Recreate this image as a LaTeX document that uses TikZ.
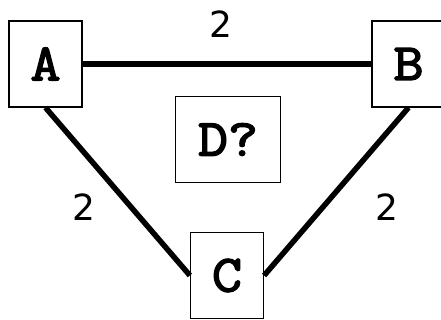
\documentclass[tikz,border=0pt]{standalone}
\usepackage{fontspec}
\newfontfamily\boxfont[FakeBold=3,FakeStretch=1.12]{Latin Modern Mono}
\newfontfamily\costfont{DejaVu Sans}
\usetikzlibrary{positioning}

\begin{document}
\begin{tikzpicture}[
    x=1pt, y=1pt,
    % Styles
    router/.style={% For the boxes
        rectangle,
        draw,
        line width=1.2pt,
        fill=white,
        minimum width=73pt,
        minimum height=86pt,
        inner sep=0pt,
        font=\boxfont\fontsize{52}{52}\selectfont,
        },
    link/.style={% For the thick lines
        line width=5.5pt,
        },
    cost/.style={% For the link weights
        font=\costfont\fontsize{36}{36}\selectfont,
        inner sep=0pt,
        },
    ]

    \clip (0,0) rectangle (441,320);
    \useasboundingbox (0,0) rectangle (441,320);

    % Draw the boxes:
    \node [router] (A) at (45.5, 256) {A};
    \node [router] (B) at (408.5, 256) {B};
    \node [router] (C) at (227, 44.5) {C};
    \node [router, minimum width=105pt] (D) at (228, 180.5) {D?};

    % The links
    \draw [link] (A.east) -- (B.west);
    \draw [link] (A.south) -- (C.west);
    \draw [link] (B.south) -- (C.east);

    % Weights
    \node [cost] (ab) at (221, 296) {2};
    \node [cost] (ac) at (84, 113) {2};
    \node [cost] (bc) at (387, 113) {2};
\end{tikzpicture}
\end{document}
